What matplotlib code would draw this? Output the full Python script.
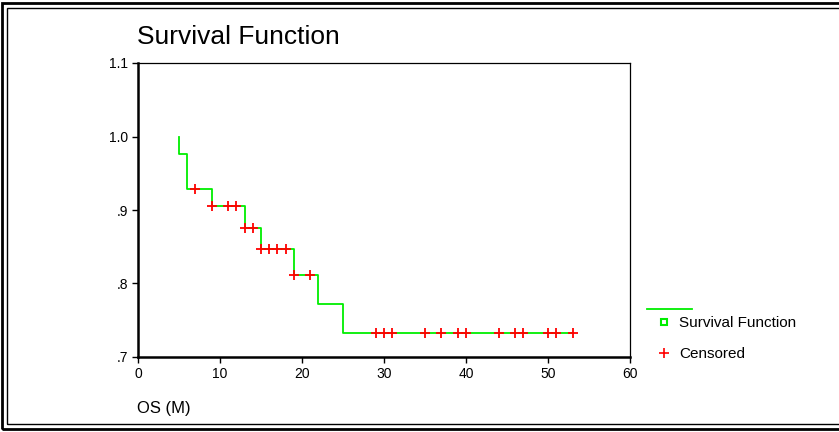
import matplotlib.pyplot as plt
from matplotlib.lines import Line2D
from matplotlib.patches import Rectangle

plt.rcParams['font.family'] = ['Liberation Sans', 'DejaVu Sans']

# step data (months, cumulative survival)
event_times = [5, 5, 6, 9, 13, 15, 19, 22, 25, 53]
survival = [1.0, 0.976, 0.929, 0.905, 0.876, 0.847, 0.812, 0.772, 0.733, 0.733]

# censored cases
cens_times = [7, 9, 11, 12, 13, 14, 15, 16, 17, 18, 19, 21,
              29, 30, 31, 35, 37, 39, 40, 44, 46, 47, 50, 51, 53]
cens_surv = [0.929, 0.905, 0.905, 0.905, 0.876, 0.876, 0.847, 0.847, 0.847, 0.847, 0.812, 0.812,
             0.733, 0.733, 0.733, 0.733, 0.733, 0.733, 0.733, 0.733, 0.733, 0.733, 0.733, 0.733, 0.733]

x_ticks = [0, 10, 20, 30, 40, 50, 60]
y_ticks = [0.7, 0.8, 0.9, 1.0, 1.1]
y_labels = ['.7', '.8', '.9', '1.0', '1.1']

W, H = 839, 432
fig = plt.figure(figsize=(W / 100, H / 100), dpi=100)
ax = fig.add_axes([138 / W, 1 - 357 / H, (630 - 138) / W, (357 - 63) / H])

ax.step(event_times, survival, where='post', color='#00ee00', lw=1.3, zorder=2)
ax.plot(cens_times, cens_surv, ls='none', marker='+', color='red', ms=7, mew=1.3, zorder=3)

ax.set_xlim(0, 60)
ax.set_ylim(0.7, 1.1)
ax.set_xticks(x_ticks)
ax.set_yticks(y_ticks)
ax.set_yticklabels(y_labels)
ax.tick_params(labelsize=10, length=4, width=1, direction='out', pad=3)
for s in ['left', 'bottom']:
    ax.spines[s].set_linewidth(1.8)
for s in ['top', 'right']:
    ax.spines[s].set_linewidth(0.9)

fig.text(137 / W, 1 - 37 / H, 'Survival Function', fontsize=19, va='center', ha='left')
fig.text(137 / W, 1 - 408 / H, 'OS (M)', fontsize=12, va='center', ha='left')

# legend, SPSS style
fig.add_artist(Line2D([647 / W, 692 / W], [1 - 309 / H, 1 - 309 / H], color='#00ee00', lw=1.3))
handles = [Line2D([], [], ls='none', marker='s', mfc='none', mec='#00ee00', ms=5, mew=1.5),
           Line2D([], [], ls='none', marker='+', color='red', ms=7, mew=1.2)]
fig.legend(handles, ['Survival Function', 'Censored'], loc='upper left',
           bbox_to_anchor=(650 / W, 1 - 310 / H), frameon=False, fontsize=11,
           handlelength=1.0, handletextpad=0.5, labelspacing=1.1, borderaxespad=0)

# double frame
fig.add_artist(Rectangle((2 / W, 3 / H), 1.2, 1 - 6 / H, transform=fig.transFigure,
                         fill=False, lw=2, ec='black'))
fig.add_artist(Rectangle((7 / W, 8 / H), 1.2, 1 - 16 / H, transform=fig.transFigure,
                         fill=False, lw=1, ec='black'))

fig.savefig('out.png', dpi=100)
